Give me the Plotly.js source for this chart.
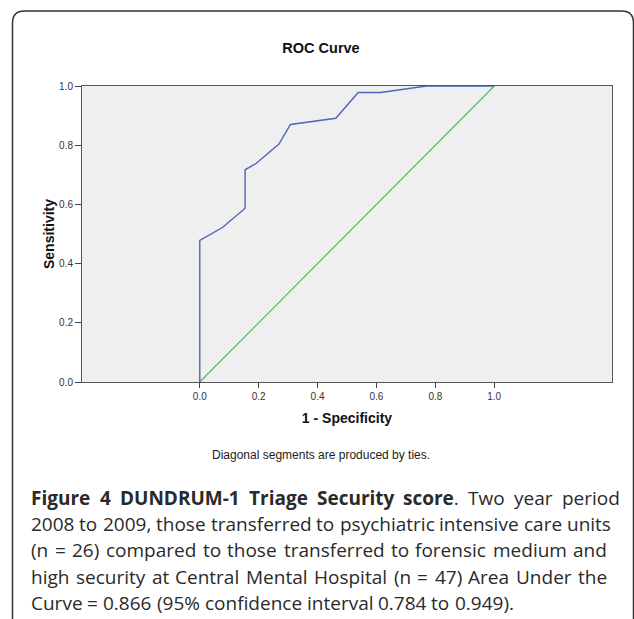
<!DOCTYPE html>
<html>
<head>
<meta charset="utf-8">
<script src="https://cdn.plot.ly/plotly-3.0.1.min.js"></script>
<style>
  html, body { margin: 0; padding: 0; background: #ffffff; }
  #chart { width: 634px; height: 619px; }
</style>
</head>
<body>
<div id="chart"></div>
<script>
// ROC curve data (1 - Specificity, Sensitivity)
const fpr = [0, 0, 0.077, 0.154, 0.154, 0.192, 0.269, 0.308, 0.462, 0.538, 0.615, 0.769, 1.0];
const tpr = [0, 0.478, 0.522, 0.587, 0.717, 0.739, 0.804, 0.870, 0.891, 0.978, 0.978, 1.0, 1.0];
// Reference line
const refX = [0, 1];
const refY = [0, 1];
// Tick labels
const xTicks = [0, 0.2, 0.4, 0.6, 0.8, 1.0];
const xTickText = ["0.0", "0.2", "0.4", "0.6", "0.8", "1.0"];
const yTicks = [0, 0.2, 0.4, 0.6, 0.8, 1.0];
const yTickText = ["0.0", "0.2", "0.4", "0.6", "0.8", "1.0"];
// Texts
const chartTitle = "ROC Curve";
const xTitle = "1 - Specificity";
const yTitle = "Sensitivity";
const note = "Diagonal segments are produced by ties.";
const captionLines = [
  "<b>Figure 4 DUNDRUM-1 Triage Security score</b>. Two year period",
  "2008 to 2009, those transferred to psychiatric intensive care units",
  "(n = 26) compared to those transferred to forensic medium and",
  "high security at Central Mental Hospital (n = 47) Area Under the",
  "Curve = 0.866 (95% confidence interval 0.784 to 0.949)."
];

const W = 634, H = 619;
const M = {l: 82, r: 22, t: 86, b: 237};
const PW = W - M.l - M.r, PH = H - M.t - M.b;
const px = x => (x - M.l) / PW;
const py = y => (H - M.b - y) / PH;

const traces = [
  {x: refX, y: refY, type: 'scatter', mode: 'lines',
   line: {color: '#45b84f', width: 1.1}, hoverinfo: 'skip', showlegend: false},
  {x: fpr, y: tpr, type: 'scatter', mode: 'lines',
   line: {color: '#4d66b8', width: 1.4}, showlegend: false}
];

const annotations = [
  {text: note, xref: 'paper', yref: 'paper', x: px(321), y: py(455),
   xanchor: 'center', yanchor: 'middle', showarrow: false,
   font: {family: 'Liberation Sans, Arial, sans-serif', size: 12, color: '#222'}}
];

// Justified caption: words placed individually
const capFont = 'Open Sans';
const capSize = 19;
const canvas = document.createElement('canvas');
const ctx = canvas.getContext('2d');
function measure(t, bold) {
  ctx.font = (bold ? 'bold ' : '') + capSize + 'px "' + capFont + '"';
  return ctx.measureText(t).width;
}
const capLeft = 30;
const capRight = [619, 610, 606, 606, null];
const capY0 = 498, capDY = 26.2;
const state = {bold: false};
captionLines.forEach((line, i) => {
  const words = line.split(' ').map(w => {
    const parts = w.split(/(<\/?b>)/).filter(s => s.length);
    let html = '', width = 0;
    parts.forEach(p => {
      if (p === '<b>') { state.bold = true; return; }
      if (p === '</b>') { state.bold = false; return; }
      width += measure(p, state.bold);
      html += state.bold ? '<b>' + p + '</b>' : p;
    });
    return {html, width};
  });
  const total = words.reduce((s, w) => s + w.width, 0);
  const gap = capRight[i] !== null
    ? (capRight[i] - capLeft - total) / (words.length - 1)
    : measure(' ', false);
  let x = capLeft;
  words.forEach(w => {
    annotations.push({text: w.html, xref: 'paper', yref: 'paper', x: px(x - 1), y: py(capY0 + i * capDY),
      xanchor: 'left', yanchor: 'middle', showarrow: false, align: 'left',
      font: {family: capFont + ', sans-serif', size: capSize, color: '#2a2a2a'}});
    x += w.width + gap;
  });
});

// Border (rounded frame) drawn as a shape in paper coords
const bx0 = 12.5, by0 = 11, r = 12, bx1 = 633.5;
const path = `M ${px(bx0)} ${py(H + 2)} L ${px(bx0)} ${py(by0 + r)} ` +
  `Q ${px(bx0)} ${py(by0)} ${px(bx0 + r)} ${py(by0)} ` +
  `L ${px(bx1 - r)} ${py(by0)} Q ${px(bx1)} ${py(by0)} ${px(bx1)} ${py(by0 + r)} L ${px(bx1)} ${py(H + 2)}`;

const layout = {
  width: W, height: H,
  margin: M,
  paper_bgcolor: '#ffffff',
  plot_bgcolor: '#efefef',
  font: {family: 'Liberation Sans, Arial, sans-serif', color: '#333'},
  title: {text: '<b>' + chartTitle + '</b>', x: 321 / W, xanchor: 'center',
          y: 1 - 47.5 / H, yanchor: 'middle', xref: 'container', yref: 'container',
          font: {size: 14.5, color: '#111', family: 'Liberation Sans, Arial, sans-serif'}},
  xaxis: {range: [-0.4, 1.4], tickvals: xTicks, ticktext: xTickText,
          showgrid: false, zeroline: false, showline: true, mirror: true,
          linecolor: '#555', linewidth: 1, ticks: 'outside', ticklen: 5, tickcolor: '#444',
          tickfont: {size: 10, color: '#333'},
          title: {text: '<b>' + xTitle + '</b>', standoff: 12, font: {size: 14, color: '#111'}}},
  yaxis: {range: [0, 1], tickvals: yTicks, ticktext: yTickText,
          showgrid: false, zeroline: false, showline: true, mirror: true,
          linecolor: '#555', linewidth: 1, ticks: 'outside', ticklen: 6, tickcolor: '#444',
          tickfont: {size: 10, color: '#333'},
          title: {text: '<b>' + yTitle + '</b>', standoff: 1, font: {size: 14, color: '#111'}}},
  annotations: annotations,
  shapes: [{type: 'path', xref: 'paper', yref: 'paper', path: path,
            line: {color: '#333', width: 1.5}, layer: 'above'}]
};

Plotly.newPlot('chart', traces, layout, {displayModeBar: false, staticPlot: true});
</script>
</body>
</html>
